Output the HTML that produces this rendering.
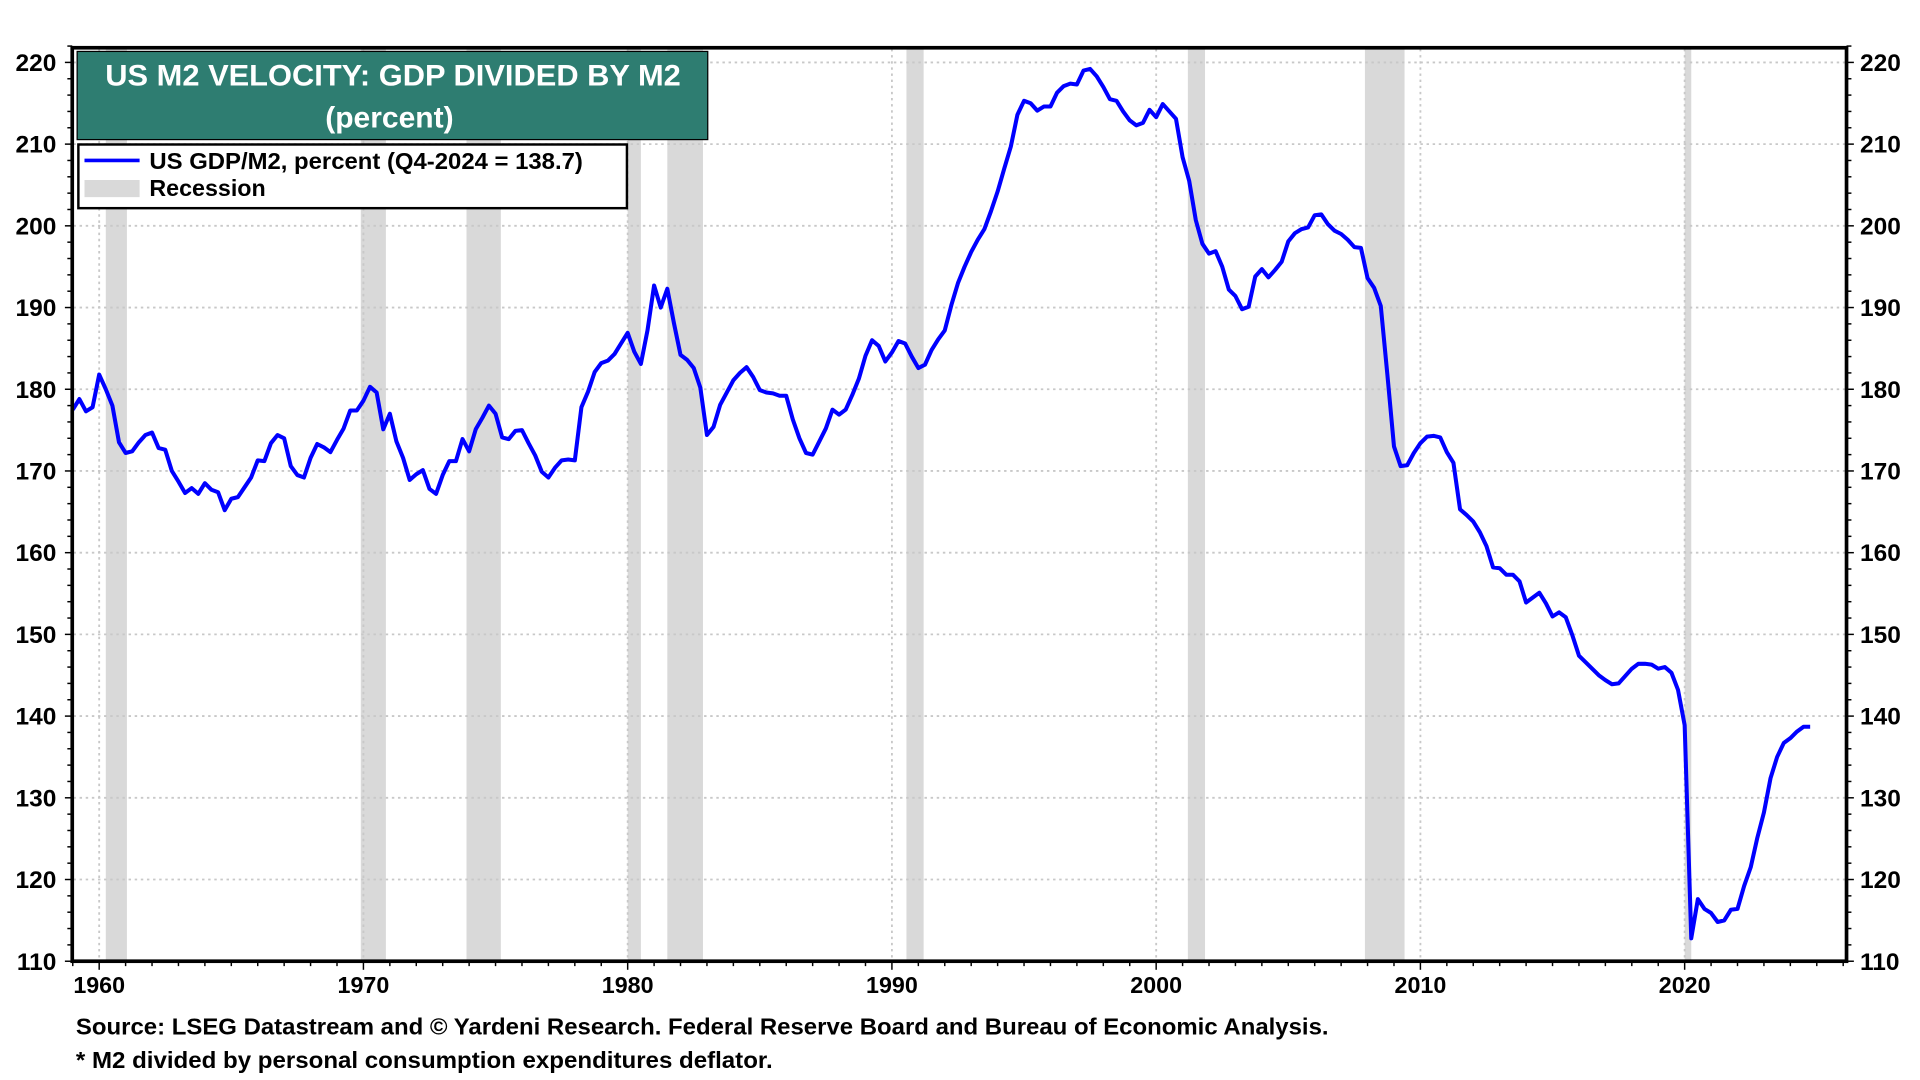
<!DOCTYPE html>
<html><head><meta charset="utf-8"><style>
html,body{margin:0;padding:0;background:#fff;}
svg{display:block;font-family:"Liberation Sans",Arial,sans-serif;font-weight:bold;}
</style></head><body>
<svg id="chart" width="1920" height="1080" viewBox="0 0 1568 882" preserveAspectRatio="none" xmlns="http://www.w3.org/2000/svg">
<g id="rec"></g>
<g id="grid"></g>
<g id="ticks"></g>
<path id="line" fill="none" stroke="#0000ff" stroke-width="3.3" stroke-linejoin="round"/>
<rect x="59" y="39" width="1449" height="746" fill="none" stroke="#000" stroke-width="3"/>
<rect x="63" y="42" width="515" height="72" fill="#2e7d71" stroke="#000" stroke-width="1"/>
<text x="321" y="70" fill="#fff" font-size="24.5" text-anchor="middle" textLength="470" lengthAdjust="spacingAndGlyphs">US M2 VELOCITY: GDP DIVIDED BY M2</text>
<text x="318" y="104" fill="#fff" font-size="24.5" text-anchor="middle">(percent)</text>
<g>
<rect x="64" y="118" width="448" height="52" fill="#fff" stroke="#000" stroke-width="2"/>
<line x1="69" y1="131" x2="114" y2="131" stroke="#0000ff" stroke-width="3"/>
<text x="122" y="138" font-size="19" textLength="354" lengthAdjust="spacingAndGlyphs">US GDP/M2, percent (Q4-2024 = 138.7)</text>
<rect x="69" y="147" width="45" height="14" fill="#d9d9d9"/>
<text x="122" y="160" font-size="19">Recession</text>
</g>
<g id="labels"></g>
<text x="62" y="845" font-size="19" textLength="1023" lengthAdjust="spacingAndGlyphs">Source: LSEG Datastream and © Yardeni Research. Federal Reserve Board and Bureau of Economic Analysis.</text>
<text x="62" y="872" font-size="19" textLength="569" lengthAdjust="spacingAndGlyphs">* M2 divided by personal consumption expenditures deflator.</text>
</svg>
<script>
const startYear = 1959;
const values = [
177.5,178.8,177.3,177.8, 181.8,180,178,173.5, 172.2,172.4,173.5,174.4, 174.7,172.8,172.6,170,
168.7,167.3,167.9,167.2, 168.5,167.7,167.4,165.2, 166.6,166.8,168,169.2, 171.3,171.2,173.4,174.4,
174,170.6,169.5,169.2, 171.6,173.3,172.9,172.3, 173.8,175.2,177.4,177.4, 178.6,180.3,179.6,175.1,
177,173.6,171.6,168.9, 169.6,170.1,167.8,167.2, 169.5,171.2,171.2,173.9, 172.4,175.1,176.5,178,
177,174.1,173.9,174.9, 175,173.4,171.9,169.9, 169.2,170.4,171.3,171.4, 171.3,177.8,179.7,182.1,
183.2,183.5,184.3,185.6, 186.9,184.6,183.1,187.2, 192.7,190,192.3,188.1, 184.2,183.6,182.6,180.2,
174.4,175.4,178.1,179.6, 181.1,182,182.7,181.5, 179.9,179.6,179.5,179.2, 179.2,176.3,174,172.2,
172,173.6,175.2,177.5, 176.9,177.5,179.3,181.3, 184.1,186,185.3,183.4, 184.5,185.9,185.6,184,
182.6,183,184.8,186.1, 187.2,190.3,193,195, 196.8,198.3,199.6,201.8, 204.2,207,209.7,213.6,
215.3,215,214.1,214.6, 214.6,216.3,217.1,217.4, 217.3,219,219.2,218.3, 217,215.5,215.3,214,
212.9,212.3,212.6,214.2, 213.3,214.9,214,213.1, 208.4,205.5,200.7,197.8, 196.6,196.9,195,192.2,
191.4,189.8,190.1,193.8, 194.7,193.7,194.6,195.6, 198.1,199.1,199.6,199.8, 201.3,201.4,200.2,199.4,
199,198.3,197.4,197.3, 193.6,192.4,190.2,181.8, 173,170.6,170.7,172.2, 173.4,174.2,174.3,174.1,
172.3,171,165.3,164.6, 163.8,162.5,160.8,158.2, 158.1,157.3,157.3,156.5, 153.9,154.5,155.1,153.8,
152.2,152.7,152.1,149.9, 147.4,146.6,145.8,145, 144.4,143.9,144,144.9, 145.8,146.4,146.4,146.3,
145.8,146,145.3,143.2, 138.9,112.8,117.6,116.4, 115.9,114.8,115,116.3, 116.4,119.2,121.5,125.1,
128.2,132.4,135,136.7, 137.3,138.1,138.7,138.7
];
const recStart = [1960.25,1969.9,1973.9,1980.0,1981.5,1990.55,2001.2,2007.9,2020.0];
const recEnd   = [1961.05,1970.85,1975.2,1980.5,1982.85,1991.2,2001.85,2009.4,2020.25];
const yTicks = [110,120,130,140,150,160,170,180,190,200,210,220];
const xTicks = [1960,1970,1980,1990,2000,2010,2020];

const NS='http://www.w3.org/2000/svg';
const X = yr => 81 + (yr-1960)*21.58;
const Y = v => 785 - (v-110)*6.673;
function mk(tag, attrs, parent){const e=document.createElementNS(NS,tag);for(const k in attrs)e.setAttribute(k,attrs[k]);parent.appendChild(e);return e;}
const rec=document.getElementById('rec'),grid=document.getElementById('grid'),ticks=document.getElementById('ticks'),labels=document.getElementById('labels');
recStart.forEach((s,i)=>{
  const r=mk('rect',{x:X(s),y:40,width:X(recEnd[i])-X(s),height:744,fill:'#d9d9d9'},rec);
  
  
});
yTicks.forEach(v=>{
  const l=mk('line',{x1:60,x2:1507,y1:Y(v),y2:Y(v),stroke:'#c8c8c8','stroke-width':1.5,'stroke-dasharray':'2,3'},grid);
  
  
  const a=mk('text',{x:46,y:Y(v)+7,'font-size':20,'text-anchor':'end'},labels);a.textContent=v;
  
  
  const b=mk('text',{x:1519,y:Y(v)+7,'font-size':20},labels);b.textContent=v;
  
  
});
for(let v=110;v<=222;v+=2){
  const len=(v%10===0)?6:4;
  mk('line',{x1:59-len,x2:59,y1:Y(v),y2:Y(v),stroke:'#000','stroke-width':1.2},ticks);
  mk('line',{x1:1508,x2:1508+len,y1:Y(v),y2:Y(v),stroke:'#000','stroke-width':1.2},ticks);
}
xTicks.forEach(yr=>{
  const l=mk('line',{x1:X(yr),x2:X(yr),y1:40,y2:784,stroke:'#c8c8c8','stroke-width':1.5,'stroke-dasharray':'2,3'},grid);
  
  
  const t=mk('text',{x:X(yr),y:811,'font-size':19,'text-anchor':'middle'},labels);t.textContent=yr;
  
  
});
for(let yr=1959;yr<=2026;yr++){
  const len=(yr%10===0)?7:4;
  mk('line',{x1:X(yr),x2:X(yr),y1:785,y2:785+len,stroke:'#000','stroke-width':1.2},ticks);
}
let d='';
values.forEach((v,i)=>{d+=(i?'L':'M')+X(startYear+i/4).toFixed(2)+' '+Y(v).toFixed(2);});
document.getElementById('line').setAttribute('d',d);
</script>
</body></html>
